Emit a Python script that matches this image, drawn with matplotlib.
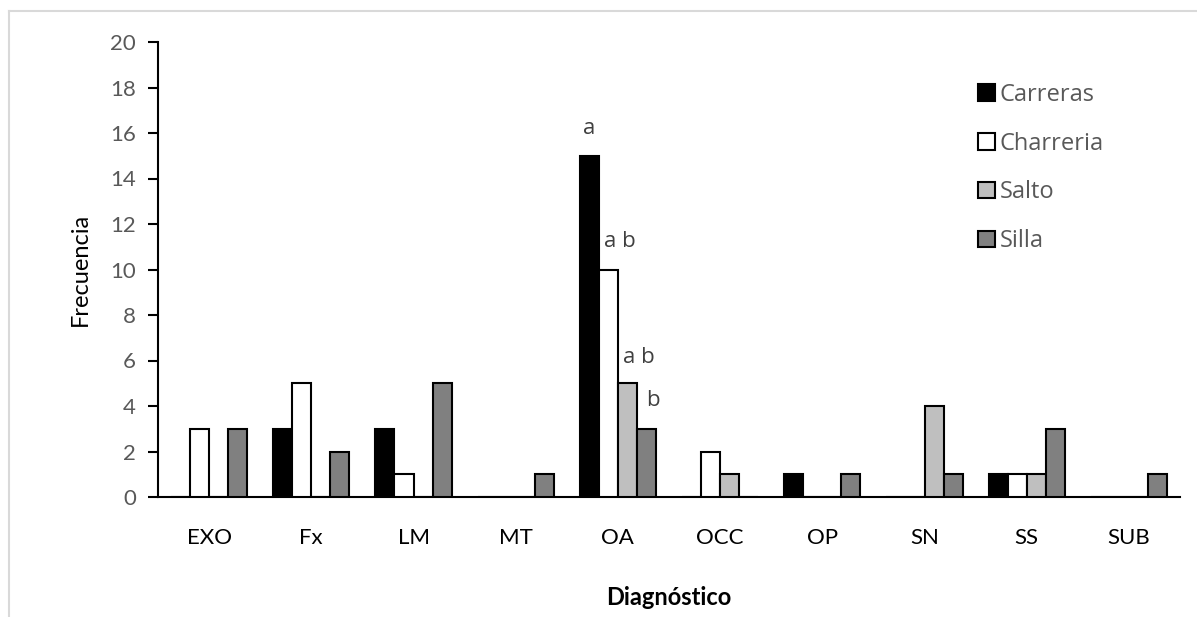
import numpy as np
import matplotlib.pyplot as plt
from matplotlib.lines import Line2D

categorias = ["EXO", "Fx", "LM", "MT", "OA", "OCC", "OP", "SN", "SS", "SUB"]
carreras = [0, 3, 3, 0, 15, 0, 1, 0, 1, 0]
charreria = [3, 5, 1, 0, 10, 2, 0, 0, 1, 0]
salto = [0, 0, 0, 0, 5, 1, 0, 4, 1, 0]
silla = [3, 2, 5, 1, 3, 0, 1, 1, 3, 1]
series = ["Carreras", "Charreria", "Salto", "Silla"]
colores = ["#000000", "#FFFFFF", "#BFBFBF", "#808080"]
letras_oa = ["a", "a b", "a b", "b"]  # letras sobre las barras de OA

# desplazamiento de cada letra respecto a su barra
dx_letra = [0.0, 0.117, 0.117, 0.06]
dy_letra = [1.18, 1.25, 1.15, 1.22]

fig = plt.figure(figsize=(11.97, 6.17), dpi=100)
ax = fig.add_axes([158/1197, 1-497/617, (1180-158)/1197, (497-42)/617])

x = np.arange(len(categorias))
w = 0.186
datos = [carreras, charreria, salto, silla]
i = categorias.index("OA")
for k, (nom, vals, col) in enumerate(zip(series, datos, colores)):
    pos = x + (k - 1.5) * w
    ax.bar(pos, vals, width=w, color=col, edgecolor="black", linewidth=1.5, label=nom, zorder=3)
    ax.text(pos[i] + dx_letra[k], vals[i] + dy_letra[k], letras_oa[k], ha="center", va="center",
            fontsize=16, color="#404040", family="Open Sans")

ax.set_xlim(-0.5, len(categorias) - 0.5)
ax.set_ylim(0, 20)
ax.set_yticks(range(0, 21, 2))
ax.set_xticks(x)
ax.set_xticklabels(categorias, fontsize=16, family="Lato")
ax.tick_params(axis="x", length=0, pad=22)
ax.tick_params(axis="y", direction="out", length=7, width=1.5, labelsize=16, labelcolor="#595959", pad=9)
for t in ax.get_yticklabels():
    t.set_family("Lato")
for s in ["top", "right"]:
    ax.spines[s].set_visible(False)
ax.spines["left"].set_linewidth(1.5)
ax.spines["bottom"].set_linewidth(1.5)

ax.set_ylabel("Frecuencia", fontsize=17, family="Lato", labelpad=14)
ax.set_xlabel("Diagnóstico", fontsize=17, family="Lato", fontweight="bold", labelpad=28)

leg = ax.legend(loc="upper left", bbox_to_anchor=(0.782, 0.957), frameon=False,
                handlelength=0.7, handleheight=0.7, handletextpad=0.2, labelspacing=1.05,
                prop={"family": "Open Sans", "size": 17})
for t in leg.get_texts():
    t.set_color("#595959")

# borde gris del area del grafico
fig.add_artist(Line2D([9/1197, 9/1197], [0, 1-11/617], color="#D9D9D9", lw=1.5))
fig.add_artist(Line2D([9/1197, 1], [1-11/617, 1-11/617], color="#D9D9D9", lw=1.5))

fig.savefig("out.png", dpi=100)
